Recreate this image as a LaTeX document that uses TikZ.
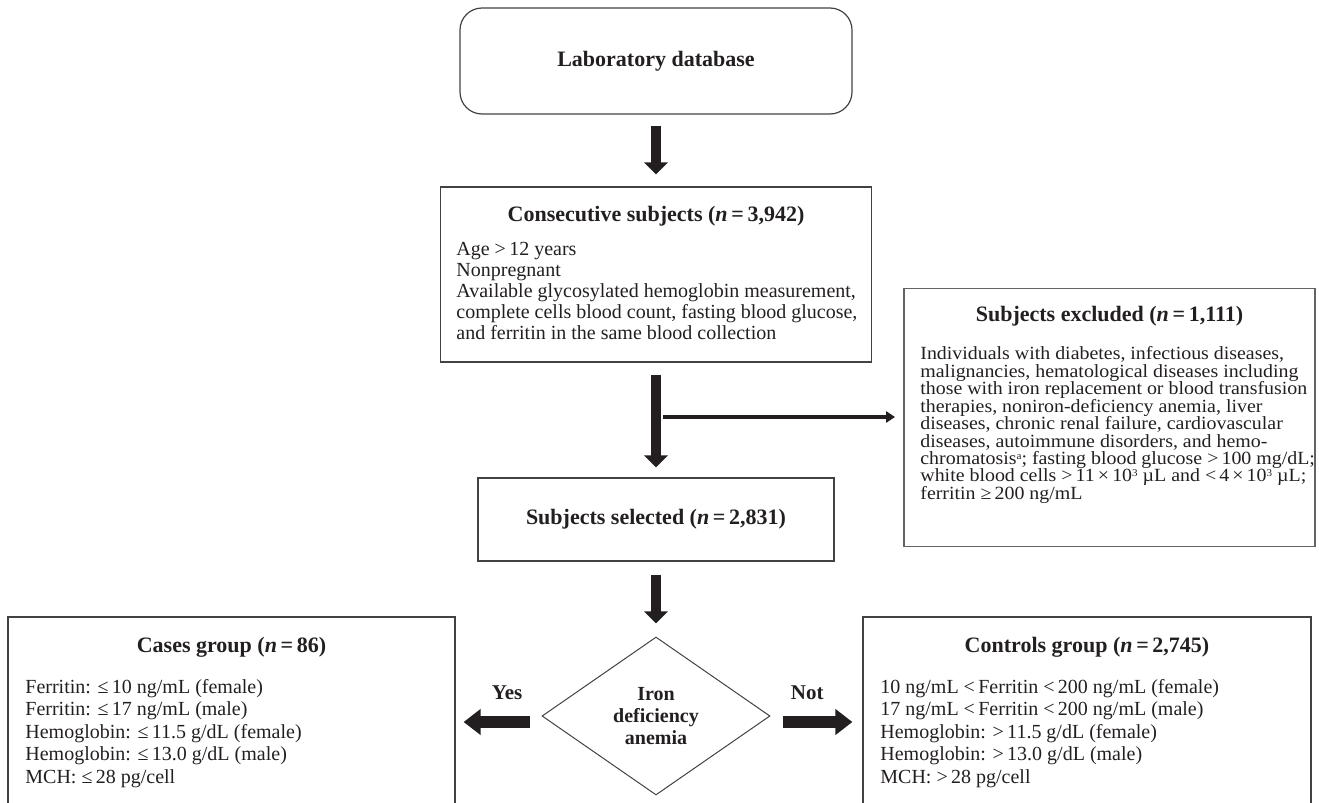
\documentclass[tikz,border=0pt]{standalone}
\usepackage{fontspec}
\setmainfont{Liberation Serif}
\newfontfamily\widefont[FakeStretch=1.07]{Liberation Serif}
\usetikzlibrary{arrows.meta, calc, shapes.geometric}
\definecolor{ink}{HTML}{231F20}
\newcommand{\sups}[1]{\smash{\raisebox{0.28em}{\fontsize{5.2}{5.2}\selectfont #1}}}

\begin{document}
\begin{tikzpicture} [x=0.5pt, y=-0.5pt,
    every node/.style = {text=ink, inner sep=0pt},
    ttl/.style = {font=\bfseries\fontsize{11}{13}\selectfont},
    txt/.style = {anchor=north west, align=left, font=\fontsize{10}{10.5}\selectfont},
    lbl/.style = {font=\bfseries\fontsize{10.5}{12}\selectfont},
    ]
        \tikzset{BoxStyle/.style = {shape = rectangle, draw = ink!85, line width = 0.6pt}}
        \tikzset{fat/.style = {draw = ink, line width = 5pt, -{Triangle[width=11.5pt, length=6pt]}}}
        \tikzset{wide/.style = {draw = ink, line width = 6pt, -{Triangle[width=12.5pt, length=8.5pt]}}}
        \tikzset{slim/.style = {draw = ink, line width = 2pt, -{Triangle[width=5.5pt, length=4.5pt]}}}
    \lineskiplimit=-6pt\relax
    \lineskip=0pt\relax
    \useasboundingbox (0,0) rectangle (1319,803);
    \clip (0,0) rectangle (1319,803);

    \node[BoxStyle, rounded corners=11pt, minimum width=196pt, minimum height=53pt, ttl] at (656,61) (lab) {Laboratory database};

    \node[BoxStyle, minimum width=215.5pt, minimum height=87.5pt] at (656,274.5) (cons) {};
    \node[ttl] at (656,216) (consT) {Consecutive subjects (\textit{n}\,=\,3,942)};
    \node[txt] at (456,242) (consB) {Age >\,12 years\\Nonpregnant\\Available glycosylated hemoglobin measurement,\\complete cells blood count, fasting blood glucose,\\and ferritin in the same blood collection};

    \node[BoxStyle, draw=ink!70, line width=0.9pt, minimum width=205.5pt, minimum height=129pt] at (1109.5,417.5) (excl) {};
    \node[ttl] at (1109.5,316) (exclT) {Subjects excluded (\textit{n}\,=\,1,111)};
    \node[txt, font=\widefont\fontsize{9.3}{8.75}\selectfont] at (920,346) (exclB) {Individuals with diabetes, infectious diseases,\\malignancies, hematological diseases including\\those with iron replacement or blood transfusion\\therapies, noniron-deficiency anemia, liver\\diseases, chronic renal failure, cardiovascular\\diseases, autoimmune disorders, and hemo-\\chromatosis\sups{a}; fasting blood glucose >\,100 mg/dL;\\white blood cells >\,11\,×\,10\sups{3} µL and <\,4\,×\,10\sups{3} µL;\\ferritin ≥\,200 ng/mL};

    \node[BoxStyle, ttl, minimum width=178pt, minimum height=41.5pt] at (656,519.5) (sel) {Subjects selected (\textit{n}\,=\,2,831)};

    \node[shape=diamond, draw=ink!85, line width=0.5pt, minimum width=114pt, minimum height=79pt, align=center, font=\bfseries\fontsize{10}{11}\selectfont] at (656,716) (dec) {Iron\\deficiency\\anemia};

    \node[BoxStyle, minimum width=223.5pt, minimum height=106.5pt] at (231.5,723.5) (cases) {};
    \node[ttl] at (231.5,647) (casesT) {Cases group (\textit{n}\,=\,86)};
    \node[txt, font=\fontsize{10}{11.25}\selectfont] at (25,679) (casesB) {Ferritin: ≤\,10 ng/mL (female)\\Ferritin: ≤\,17 ng/mL (male)\\Hemoglobin: ≤\,11.5 g/dL (female)\\Hemoglobin: ≤\,13.0 g/dL (male)\\MCH: ≤\,28 pg/cell};

    \node[BoxStyle, minimum width=224pt, minimum height=106.5pt] at (1087,723.5) (ctrl) {};
    \node[ttl] at (1087,647) (ctrlT) {Controls group (\textit{n}\,=\,2,745)};
    \node[txt, font=\fontsize{10}{11.25}\selectfont] at (880,679) (ctrlB) {10 ng/mL <\,Ferritin <\,200 ng/mL (female)\\17 ng/mL <\,Ferritin <\,200 ng/mL (male)\\Hemoglobin: >\,11.5 g/dL (female)\\Hemoglobin: >\,13.0 g/dL (male)\\MCH: >\,28 pg/cell};

    \coordinate (split) at (663,417);

\path
    (lab) edge[fat, shorten <=5.5pt, shorten >=6pt] (cons)
    (cons) edge[fat, shorten <=6pt, shorten >=5pt] (sel)
    (split) edge[slim, shorten >=4pt] (split -| excl.west)
    (sel) edge[fat, shorten <=6.5pt, shorten >=6.5pt] (dec)
    ([yshift=-3pt]dec.west) edge[wide, shorten <=6pt, shorten >=4pt] node[lbl, above=8pt, pos=0.4] {Yes} ([yshift=-3pt]dec.west -| cases.east)
    ([yshift=-3pt]dec.east) edge[wide, shorten <=6pt, shorten >=5pt] node[lbl, above=8pt, pos=0.4] {Not} ([yshift=-3pt]dec.east -| ctrl.west);

\end{tikzpicture}
\end{document}
